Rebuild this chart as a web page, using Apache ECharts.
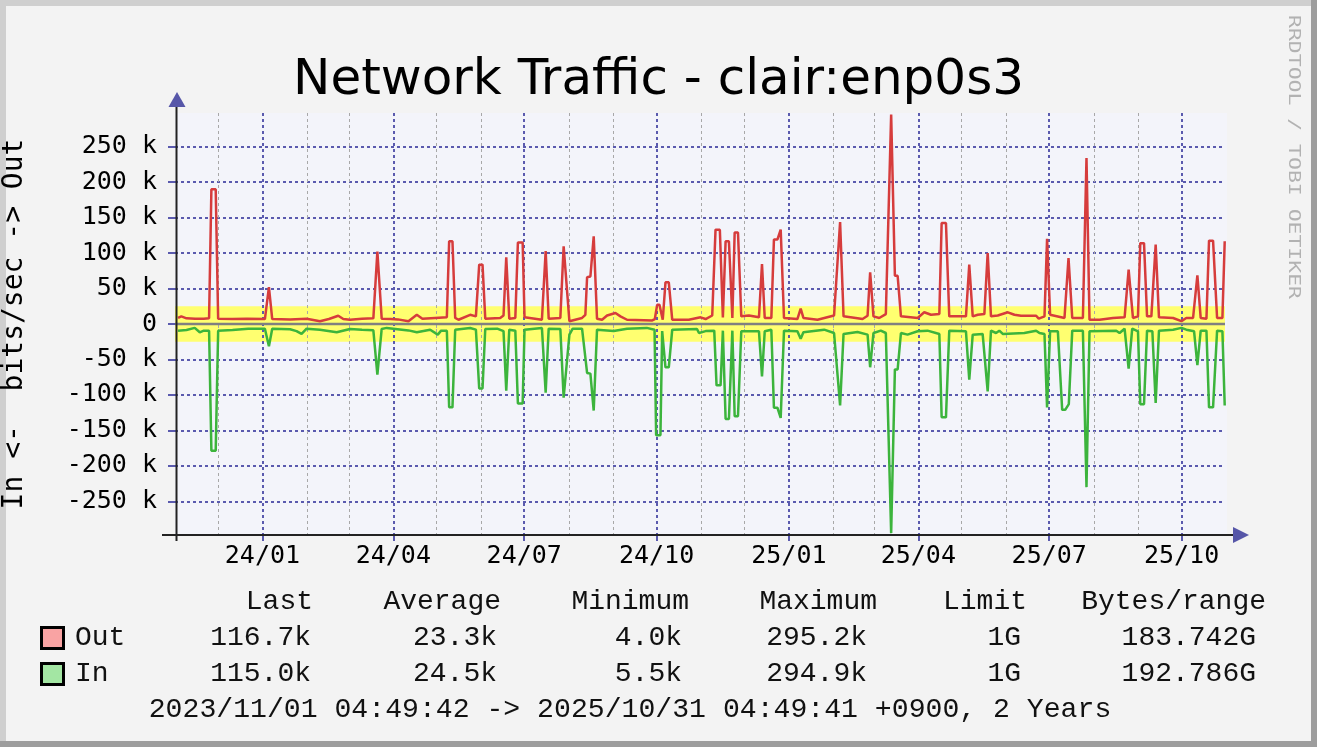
<!DOCTYPE html>
<html><head><meta charset="utf-8">
<script src="https://cdn.jsdelivr.net/npm/echarts@6/dist/echarts.min.js"></script>
<style>html,body{margin:0;padding:0;background:#f3f3f3}#c{width:1317px;height:747px}</style>
</head><body><div id="c"></div>
<script>
// ---------------- data ----------------
const TITLE = 'Network Traffic - clair:enp0s3';
const Y_NAME = 'In <-  bits/sec -> Out';
const WATERMARK = 'RRDTOOL / TOBI OETIKER';
const START = [2023, 11, 1, 4, 49, 42];
const END = [2025, 10, 31, 4, 49, 41];

// day offsets from START and values in kbit/s
const outDays = [2.1,4.4,8,14,20,23.7,25.3,28.3,30,40,50,62.5,65.3,67.6,80,91.5,100.8,107,113.5,117,121.7,130,137.9,140.7,143.7,150,155,162.3,168.1,172,180.8,189,190.6,192.9,194.8,197.1,205.2,209.2,211.5,213.8,215.7,226.1,228.4,230.3,232.4,236.6,238.4,241.7,243,255.1,257.7,259.8,267.9,270.2,274.2,283,285.3,286.5,288.8,291.1,293.4,296.9,300.4,306.2,309.7,314.3,331.8,333.6,335.2,336.8,339.1,341,343.3,345.7,357.2,365.4,368.9,373.5,375.8,378.8,380.9,382.8,385.1,387.5,389.1,391.4,393.7,399,406,408.1,410,414.6,416.4,418.8,421.1,423.4,432.7,435,436.9,446.7,458.2,462.4,464.8,473.3,478,481.5,483.3,485.6,489.6,494.2,497.9,500.5,502.4,504.7,516.3,520.9,525.6,531.4,533,536,538.3,544.1,549.9,552.2,554.6,558.1,562.7,565,567.3,572,579,583.6,588.2,598.7,600.5,604.5,606.3,608.4,618.4,621.2,623.8,631.2,633.7,635.8,642.8,652.1,660.2,663,666,669.5,671.1,673.7,675.8,678.8,681.8,684.1,693.9,699.7,703.1,707.8,710.8,713.1,717.1,718.9,721.7,724.5,728.2,729.8];
const outKbps = [8.5,10.8,8,7.5,7.5,8,190,190,7.5,7,7.5,7,52,7,6.5,7.5,4,7,11.7,7,6,7.5,8,102,7.5,7,6.5,4,13,7.5,8.5,9.4,116.6,116.6,8.5,6,13,10.8,83.7,83.7,7.5,8.5,12,94,7.5,8.5,115,115,9.4,6,103,7.5,8.5,109.5,4,8.5,13,66,67,123.6,7.5,6,12,15.5,10.8,6,5,7,27,27,6,58.7,58.7,6,6,9.4,7,12,133,133,9.4,116.6,116.6,8.5,129,129,10.8,12,9.4,84.6,8.5,8.5,119,119,133,8.5,7,21.6,8.5,6,12,143.8,10.8,8.5,7,11.7,72.9,10.8,8.5,14,295.2,68,68,10.8,8.5,16.5,13,14,142.4,142.4,10.8,10.8,10.8,83.7,10.8,13,14,100,10.8,12,16.5,13,11.7,11.7,7.5,10.8,120,13,8.5,93,8.5,8.5,234,6,6,8.5,9.4,76.6,8.5,10.8,114,114,10.8,10.8,112,9.4,8.5,4,8.5,8.5,68.6,8.5,7.5,117.5,117.5,8.5,8.5,116.7];

const inDays = [2.1,8,13.7,17.2,20,23.7,25.3,28.3,30,40,50.9,62.5,65.3,67.6,80,84.5,88,91.5,100.8,112.4,121.7,130,137.9,140.7,143.7,147.2,162.3,168.1,177.4,182.7,185,189,190.6,192.9,194.8,205.2,209.2,211.5,213.8,215.7,224,228.4,230.3,232.4,236.6,238.4,241.7,243,255.1,257.7,259.8,267.9,270.2,274.2,276.5,283,286.5,288.8,291.1,293.4,305,314.3,328,333.4,334.5,337.5,338.7,341,343.3,345.7,362.9,364.3,368.9,374.9,376.5,379.3,380.9,382.8,385.1,387.5,389.1,391.4,393.7,406,408.1,410,414.6,416.4,418.8,421.1,423.4,432.7,435,436.9,451.3,458.2,462.4,464.8,474.5,481.5,483.3,485.6,490.7,494.2,497.9,500.5,502.4,504.7,509.3,516.3,523.2,531.4,533,536,538.3,549.9,552.2,554.6,561.5,565,567.3,570.8,573.1,575.5,590.5,598.7,601,604.5,606.3,608.4,613.8,616.8,618.9,621.4,623.8,631.2,633.7,635.8,654.4,656.7,660.2,663,665.5,669.5,671.1,673.7,675.8,679.5,681.8,684.1,693.9,699.7,703.1,708.5,710.8,713.1,717.1,718.9,721.7,724.5,728.2,729.8];
const inKbps = [9.4,8.5,5.5,11.7,9.4,9.4,178.6,178.6,9.4,8.5,6.6,6.6,31.5,6.6,7.5,10,14,6.6,8,11.7,7,8,8.9,71.4,7,5.5,9,11.7,8,15,9.4,9.4,117.5,117.5,8,5.6,8,91,91,7,6.6,10,94,8,9.4,112,112,8,5.6,97,6.6,7,104,15,6.6,6.6,69,70,122,8,10,6.6,5.5,8,157,157,10,61,61,8,7,12.7,10,9.4,86.5,86.5,9.4,134,134,9.4,130,130,10.3,10.3,73.8,10.3,8,118,118,132.5,9.4,10.3,20.7,11.7,8,12.7,114.7,14,11.2,15,61,12.7,9.4,12.7,294.9,64,64,12.7,15,10.3,9.4,14,131.6,131.6,9.4,10.3,78.5,15,14,95,9.4,12.7,9.4,14,12.7,9.4,12.7,14,117.5,10.3,10.3,121,121,113,9.4,9.4,230,10.3,9.4,12.7,6.6,63,6.6,10.3,113,113,9.4,10.3,111.4,9.4,8,5.5,8,10.3,58,9.4,9.4,117.5,117.5,9.4,10.3,115];

const bandKbps = 25;              // yellow band +/- limit
const yMaxKbps = 297.5;
const yTicksKbps = [-250,-200,-150,-100,-50,0,50,100,150,200,250];
const quarterMonths = ['2024-01','2024-04','2024-07','2024-10','2025-01','2025-04','2025-07','2025-10'];
const quarterLabels = ['24/01','24/04','24/07','24/10','25/01','25/04','25/07','25/10'];
const minorMonths = ['2023-12','2024-02','2024-03','2024-05','2024-06','2024-08','2024-09','2024-11','2024-12','2025-02','2025-03','2025-05','2025-06','2025-08','2025-09'];

const legendHeaders = ['Last','Average','Minimum','Maximum','Limit','Bytes/range'];
const outStats = ['116.7k','23.3k','4.0k','295.2k','1G','183.742G'];
const inStats  = ['115.0k','24.5k','5.5k','294.9k','1G','192.786G'];
const FOOTER = '2023/11/01 04:49:42 -> 2025/10/31 04:49:41 +0900, 2 Years';

// ---------------- build ----------------
const DAY = 86400000;
const startTs = Date.UTC(START[0], START[1]-1, START[2], START[3], START[4], START[5]);
const endTs = Date.UTC(END[0], END[1]-1, END[2], END[3], END[4], END[5]);
const monthTs = s => { const p = s.split('-'); return Date.UTC(+p[0], +p[1]-1, 1); };
const quarterTs = quarterMonths.map(monthTs);
const minorTs = minorMonths.map(monthTs);
const outData = outDays.map((d,i) => [startTs + d*DAY, outKbps[i]*1000]);
const inData = inDays.map((d,i) => [startTs + d*DAY, -inKbps[i]*1000]);

const BLUE = '#5a5aae';
const GRAY = '#a8a8a8';
const GRID = {left:175, top:113, right:1317-1225, bottom:747-535};
const PL = GRID.left, PR = 1225, PT = GRID.top, PB = 535;

const colRight = [313, 501, 689, 877, 1027, 1266];
const valRight = [311, 497, 682, 867, 1021, 1256];
const legendFont = '28px "Liberation Mono"';
function txt(text, x, y, align, extra) {
  return Object.assign({type:'text', x:x, y:y, z:20,
    style:{text:text, font:legendFont, fill:'#111', align:align, verticalAlign:'middle', textAlign:align, textVerticalAlign:'middle'}}, extra||{});
}
const graphics = [
  {type:'rect', z:-20, silent:true, shape:{x:0,y:0,width:1317,height:747}, style:{fill:'#f3f3f3'}},
  {type:'rect', z:-19, silent:true, shape:{x:0,y:0,width:1317,height:6}, style:{fill:'#cfcfcf'}},
  {type:'rect', z:-19, silent:true, shape:{x:0,y:0,width:6,height:747}, style:{fill:'#cfcfcf'}},
  {type:'rect', z:-18, silent:true, shape:{x:1311,y:0,width:6,height:747}, style:{fill:'#9d9d9d'}},
  {type:'rect', z:-18, silent:true, shape:{x:0,y:741,width:1317,height:6}, style:{fill:'#9d9d9d'}},
  {type:'rect', z:-10, silent:true, shape:{x:PL,y:PT,width:1227-PL,height:PB-PT}, style:{fill:'#f3f4fa'}},
  // axis lines and arrows
  {type:'line', z:10, silent:true, shape:{x1:176.5,y1:541,x2:176.5,y2:106}, style:{stroke:'#222',lineWidth:2}},
  {type:'line', z:10, silent:true, shape:{x1:162,y1:535,x2:1234,y2:535}, style:{stroke:'#222',lineWidth:2}},
  {type:'polygon', z:11, silent:true, shape:{points:[[168.5,107],[185.5,107],[177,92]]}, style:{fill:'#5656a8'}},
  {type:'polygon', z:11, silent:true, shape:{points:[[1233,527],[1233,543],[1249,535]]}, style:{fill:'#5656a8'}},
  // watermark
  {type:'text', z:20, x:1293, y:157, rotation:-Math.PI/2, scaleX:1.34, silent:true,
    style:{text:WATERMARK, font:'16px "DejaVu Sans Mono"', fill:'#b2b2b2', align:'center', verticalAlign:'middle', textAlign:'center', textVerticalAlign:'middle'}},
  // legend boxes
  {type:'rect', z:20, shape:{x:41.5,y:627.5,width:22,height:21}, style:{fill:'#f9a3a3', stroke:'#000', lineWidth:3}},
  {type:'rect', z:20, shape:{x:41.5,y:663.5,width:22,height:21}, style:{fill:'#a3e6a3', stroke:'#000', lineWidth:3}},
  txt('Out', 75, 638, 'left'),
  txt('In', 75, 674, 'left'),
  txt(FOOTER, 630, 710, 'center', {scaleX:1.005})
];
legendHeaders.forEach((h,i) => graphics.push(txt(h, colRight[i], 602, 'right')));
outStats.forEach((h,i) => graphics.push(txt(h, valRight[i], 638, 'right')));
inStats.forEach((h,i) => graphics.push(txt(h, valRight[i], 674, 'right')));

const chart = echarts.init(document.getElementById('c'), null, {renderer:'canvas'});
chart.setOption({
  animation: false,
  backgroundColor: 'transparent',
  title: {text: TITLE, left: 'center', top: 51,
    textStyle: {fontFamily: 'DejaVu Sans', fontSize: 50, fontWeight: 'normal', color: '#000'}},
  grid: Object.assign({show:false, containLabel:false, outerBoundsMode:'none'}, GRID),
  xAxis: [
    {type:'value', min:startTs, max:endTs, position:'bottom', scale:true,
      axisLine:{show:false}, axisLabel:{show:false},
      axisTick:{show:true, customValues:minorTs, length:4, lineStyle:{color:GRAY, width:1}},
      splitLine:{show:true, lineStyle:{color:GRAY, width:1, type:[3,3]}}},
    {type:'value', min:startTs, max:endTs, position:'bottom', scale:true,
      axisLine:{show:false},
      axisTick:{show:true, customValues:quarterTs, length:6, lineStyle:{color:BLUE, width:2}},
      axisLabel:{show:true, customValues:quarterTs, margin:9, color:'#000',
        fontFamily:'DejaVu Sans Mono', fontSize:25,
        formatter: v => { const i = quarterTs.indexOf(v); return i >= 0 ? quarterLabels[i] : ''; }},
      splitLine:{show:true, lineStyle:{color:BLUE, width:2, type:[3,3]}}}
  ],
  yAxis: {type:'value', min:-yMaxKbps*1000, max:yMaxKbps*1000,
    name: Y_NAME, nameLocation:'middle', nameGap:146, nameRotate:90,
    nameTextStyle:{fontFamily:'DejaVu Sans Mono', fontSize:28, color:'#000'},
    axisLine:{show:false},
    axisTick:{show:true, customValues:yTicksKbps.map(v=>v*1000), length:7, lineStyle:{color:BLUE, width:2}},
    axisLabel:{show:true, customValues:yTicksKbps.map(v=>v*1000), margin:18, color:'#000',
      fontFamily:'DejaVu Sans Mono', fontSize:25,
      formatter: v => v === 0 ? '0' : (v/1000) + ' k'},
    splitLine:{show:true, lineStyle:{color:BLUE, width:2, type:[3,3]}}},
  graphic: {elements: graphics},
  series: [
    {name:'band+', type:'line', xAxisIndex:1, z:-1, silent:true, symbol:'none',
      data:[[startTs, bandKbps*1000],[endTs, bandKbps*1000]],
      lineStyle:{width:0}, areaStyle:{color:'#ffff70', opacity:1, origin:0}},
    {name:'band-', type:'line', xAxisIndex:1, z:-1, silent:true, symbol:'none',
      data:[[startTs, -bandKbps*1000],[endTs, -bandKbps*1000]],
      lineStyle:{width:0}, areaStyle:{color:'#ffff70', opacity:1, origin:0}},
    {name:'zero', type:'line', xAxisIndex:1, z:1, silent:true, symbol:'none',
      data:[[startTs,0],[endTs,0]], lineStyle:{color:'#808080', width:2.5}},
    {name:'Out', type:'line', xAxisIndex:1, z:3, symbol:'none', data:outData,
      lineStyle:{color:'#d63c3c', width:2.5}},
    {name:'In', type:'line', xAxisIndex:1, z:3, symbol:'none', data:inData,
      lineStyle:{color:'#3cb43c', width:2.5}}
  ]
});
</script>
</body></html>
